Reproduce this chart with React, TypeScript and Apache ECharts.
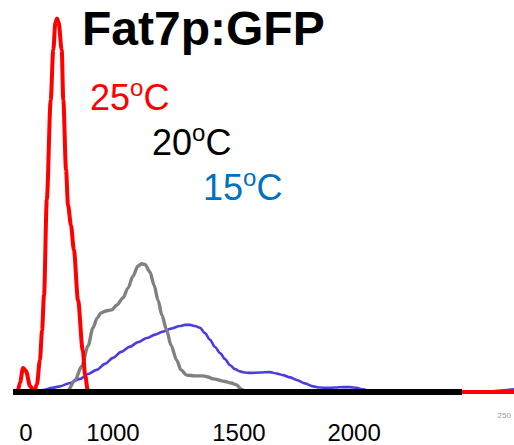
import React, { useEffect, useRef } from 'react';
import * as echarts from 'echarts';

// x in instrument channel units (0..255), y in % of max count
const X_MIN = 0;
const X_MAX = 255;
const Y_MIN = 0;
const Y_MAX = 100;

const tickValues = [6.6, 50.9, 115.0, 173.6];
const tickLabels = ['0', '1000', '1500', '2000'];
const endTickValues = [250];
const endTickLabels = ['250'];

const red25X = [2.5, 3.6, 5.1, 6.6, 8.7, 10.7, 12.2, 13.7, 14.8, 15.8, 17.2, 19.2, 20.5, 21.6, 22.4, 23.2, 24.8, 25.6, 27, 28, 29.5, 31, 33.1, 35.5, 36.7, 38.2, 228.5, 255];
const red25Y = [0, 2.6, 6.4, 5.6, 1.6, 0, 2.1, 8.5, 16.5, 25.9, 51.2, 77.9, 91.2, 98.7, 99.6, 98.7, 91.2, 77.9, 59.2, 49.9, 44.5, 37.9, 24.5, 11.2, 4.5, 0, 0, 0];

const gray20X = [24.9, 28.0, 31.6, 35.0, 38.2, 40.7, 42.8, 44.8, 47.3, 50.2, 52.9, 56.0, 58.5, 61.1, 63.6, 65.5, 67.2, 69.7, 71.8, 73.8, 75.8, 78.2, 80.4, 83.3, 85.5, 88.4, 92.6, 96.7, 99.3, 101.8, 107.9, 111.0, 113.9, 116.0, 118.1];
const gray20Y = [0, 0.5, 3.2, 6.9, 12.3, 17.1, 19.7, 21.1, 21.6, 21.9, 23.2, 25.1, 27.7, 30.9, 33.6, 34.2, 34.0, 32.0, 28.5, 24.5, 20.5, 16.5, 12.5, 8.5, 5.9, 4.5, 4.3, 4.3, 4.0, 3.5, 2.8, 2.4, 1.9, 0.8, 0];

const blue15X = [11.2, 15.3, 19.9, 23.9, 29.0, 34.1, 38.2, 42.6, 46.8, 50.9, 55.0, 59.6, 63.6, 68.1, 72.3, 76.3, 80.4, 85.0, 87.5, 90.1, 92.6, 95.2, 97.7, 100.3, 102.8, 105.4, 107.9, 110.4, 113.0, 115.5, 118.1, 120.6, 125.7, 130.8, 134.4, 137.4, 141.0, 144.4, 148.6, 152.7, 156.3, 159.7, 163.9, 168.0, 171.5, 174.9, 178.1, 181.7, 186.8, 228.5, 237.7, 255];
const blue15Y = [0, 0.5, 1.1, 1.5, 2.4, 3.5, 4.8, 5.9, 7.5, 9.1, 10.7, 12.1, 13.3, 14.4, 15.3, 16.1, 16.9, 17.6, 17.9, 17.9, 17.6, 17.1, 15.7, 13.9, 12.0, 10.4, 8.8, 7.2, 6.1, 5.5, 5.2, 5.1, 5.2, 5.3, 4.9, 4.5, 3.9, 3.2, 2.3, 1.5, 1.2, 1.1, 1.2, 1.3, 1.3, 1.1, 0.7, 0.3, 0, 0, 0.1, 0.7];

const baselineX = [0, 228.5];
const baselineY = [0, 0];

const pair = (xs: number[], ys: number[]) => xs.map((x, i) => [x, ys[i]]);
const FONT = '"Liberation Sans", Arial, Helvetica, sans-serif';

const labelFor = (values: number[], labels: string[]) => (v: number) => {
  const i = values.findIndex((t) => Math.abs(t - v) < 0.01);
  return i >= 0 ? labels[i] : '';
};

const tempLabel = (x: number, y: number, num: string, color: string) => ({
  type: 'text',
  x,
  y,
  style: {
    text: num + '{s|o}C',
    fontSize: 36,
    fontFamily: FONT,
    fill: color,
    lineHeight: 36,
    verticalAlign: 'top',
    rich: {
      s: { fontSize: 24, fontFamily: FONT, verticalAlign: 'top', padding: [-4, 0, 0, 0], fill: color },
    },
  },
});

export default function App() {
  const ref = useRef<HTMLDivElement>(null);
  useEffect(() => {
    if (!ref.current) return;
    const chart = echarts.init(ref.current, null, { renderer: 'svg' });
    const option: any = {
      animation: false,
      grid: { left: 13, right: 0, top: 17, bottom: 53, containLabel: false },
      xAxis: [
        {
          type: 'value',
          min: X_MIN,
          max: X_MAX,
          axisLine: { show: false },
          axisTick: { show: false },
          splitLine: { show: false },
          axisLabel: {
            customValues: tickValues,
            formatter: labelFor(tickValues, tickLabels),
            fontSize: 24,
            fontFamily: FONT,
            color: '#000',
            margin: 28,
          },
        },
        {
          type: 'value',
          min: X_MIN,
          max: X_MAX,
          position: 'bottom',
          axisLine: { show: false },
          axisTick: { show: false },
          splitLine: { show: false },
          axisLabel: {
            customValues: endTickValues,
            formatter: labelFor(endTickValues, endTickLabels),
            fontSize: 8,
            fontFamily: FONT,
            color: '#9a9a9a',
            margin: 19,
          },
        },
      ],
      yAxis: { type: 'value', min: Y_MIN, max: Y_MAX, show: false },
      series: [
        {
          name: '15ºC',
          type: 'line',
          data: pair(blue15X, blue15Y),
          smooth: 0.3,
          smoothMonotone: 'x',
          showSymbol: false,
          lineStyle: { color: '#4a3ee0', width: 2.6 },
          z: 2,
        },
        {
          name: '20ºC',
          type: 'line',
          data: pair(gray20X, gray20Y),
          smooth: 0.3,
          smoothMonotone: 'x',
          showSymbol: false,
          lineStyle: { color: '#808080', width: 3.4 },
          z: 3,
        },
        {
          name: '25ºC',
          type: 'line',
          data: pair(red25X, red25Y),
          smooth: 0.3,
          smoothMonotone: 'x',
          showSymbol: false,
          lineStyle: { color: '#ff0000', width: 4 },
          z: 4,
        },
        {
          name: 'baseline',
          type: 'line',
          data: pair(baselineX, baselineY),
          showSymbol: false,
          lineStyle: { color: '#000', width: 6, cap: 'butt' },
          z: 5,
        },
      ],
      graphic: [
        {
          type: 'text',
          x: 82,
          y: 4,
          style: {
            text: 'Fat7p:GFP',
            fontSize: 48,
            fontWeight: 'bold',
            fontFamily: FONT,
            fill: '#000',
            lineHeight: 48,
            verticalAlign: 'top',
          },
        },
        tempLabel(90, 79.5, '25', '#ff0000'),
        tempLabel(152, 124.5, '20', '#000000'),
        tempLabel(203, 169.5, '15', '#0070c0'),
      ],
    };
    chart.setOption(option);
    return () => chart.dispose();
  }, []);
  return <div ref={ref} style={{ position: 'absolute', left: 0, top: 0, width: 514, height: 445, background: '#fff' }} />;
}
